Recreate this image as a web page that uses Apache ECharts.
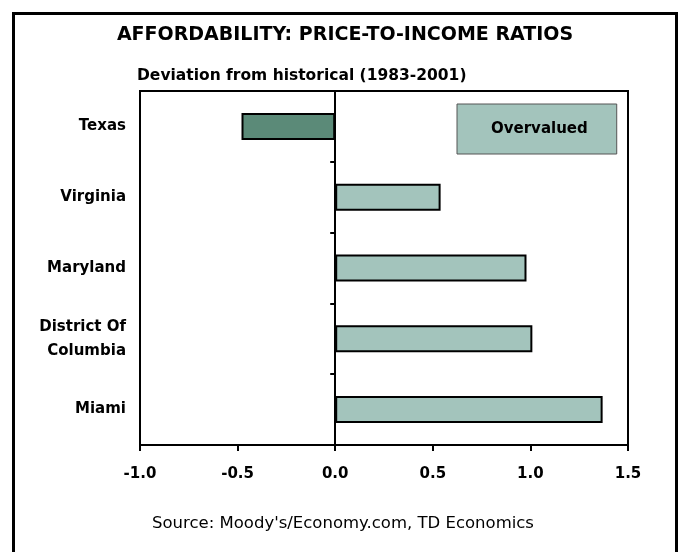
<!DOCTYPE html>
<html>
<head>
<meta charset="utf-8">
<script src="https://cdn.jsdelivr.net/npm/echarts@6/dist/echarts.min.js"></script>
<style>
  html, body { margin: 0; padding: 0; background: #fff; }
  #chart { width: 679px; height: 552px; }
</style>
</head>
<body>
<div id="chart"></div>
<script>
// data
const states = ['Texas', 'Virginia', 'Maryland', 'District Of\nColumbia', 'Miami'];
const deviation = [-0.48, 0.54, 0.98, 1.01, 1.37];
const xTicks = [-1.0, -0.5, 0.0, 0.5, 1.0, 1.5];

const FONT = '"DejaVu Sans", "Liberation Sans", Arial, sans-serif';
const chart = echarts.init(document.getElementById('chart'));

let option = {
  animation: false,
  textStyle: { fontFamily: FONT },
  graphic: [
    {
      type: 'rect',
      shape: { x: 13.5, y: 13.5, width: 663, height: 580 },
      style: { fill: 'none', stroke: '#000', lineWidth: 3 }
    },
    {
      type: 'text',
      x: 345,
      y: 26,
      style: {
        text: 'AFFORDABILITY: PRICE-TO-INCOME RATIOS',
        textAlign: 'center',
        font: 'bold 19px ' + FONT,
        fill: '#000'
      }
    },
    {
      type: 'text',
      x: 137,
      y: 68,
      style: {
        text: 'Deviation from historical (1983-2001)',
        font: 'bold 15.5px ' + FONT,
        fill: '#000'
      }
    },
    {
      type: 'text',
      x: 343,
      y: 515,
      style: {
        text: "Source: Moody's/Economy.com, TD Economics",
        textAlign: 'center',
        font: '16.5px ' + FONT,
        fill: '#000'
      }
    }
  ],
  legend: {
    left: 457,
    top: 104,
    data: [{ name: 'Overvalued', icon: 'none' }],
    itemWidth: 0,
    itemHeight: 0,
    itemGap: 0,
    padding: [18, 29, 17, 29],
    backgroundColor: '#a3c4bc',
    borderColor: '#555',
    borderWidth: 1,
    textStyle: { fontSize: 15, fontWeight: 'bold', color: '#000', fontFamily: FONT }
  },
  grid: {
    left: 140,
    right: 51,
    top: 91,
    bottom: 107,
    show: true,
    borderColor: '#000',
    borderWidth: 2,
    backgroundColor: 'transparent'
  },
  xAxis: {
    type: 'value',
    min: xTicks[0],
    max: xTicks[xTicks.length - 1],
    interval: 0.5,
    axisLine: { show: true, onZero: false, lineStyle: { color: '#000', width: 2 } },
    axisTick: { show: true, inside: false, length: 6, lineStyle: { color: '#000', width: 2 } },
    splitLine: { show: false },
    axisLabel: {
      margin: 22,
      fontSize: 15,
      fontWeight: 'bold',
      color: '#000',
      fontFamily: FONT,
      formatter: v => v.toFixed(1)
    }
  },
  yAxis: [
    {
      type: 'category',
      data: states,
      inverse: true,
      axisLine: { show: false, onZero: false },
      axisTick: { show: false },
      axisLabel: {
        margin: 14,
        fontSize: 15,
        fontWeight: 'bold',
        color: '#000',
        fontFamily: FONT,
        lineHeight: 24
      }
    },
    {
      type: 'category',
      data: states,
      inverse: true,
      position: 'left',
      axisLine: { show: true, onZero: true, lineStyle: { color: '#000', width: 2 } },
      axisTick: { show: true, inside: false, length: 5, lineStyle: { color: '#000', width: 2 } },
      axisLabel: { show: false }
    }
  ],
  series: [
    {
      name: 'Overvalued',
      type: 'bar',
      yAxisIndex: 0,
      barWidth: 27,
      data: deviation.map(v => ({
        value: v,
        itemStyle: { color: v < 0 ? '#5b8a78' : '#a3c4bc' }
      })),
      itemStyle: { borderColor: '#000', borderWidth: 2 }
    }
  ]
};

option && chart.setOption(option);
</script>
</body>
</html>
